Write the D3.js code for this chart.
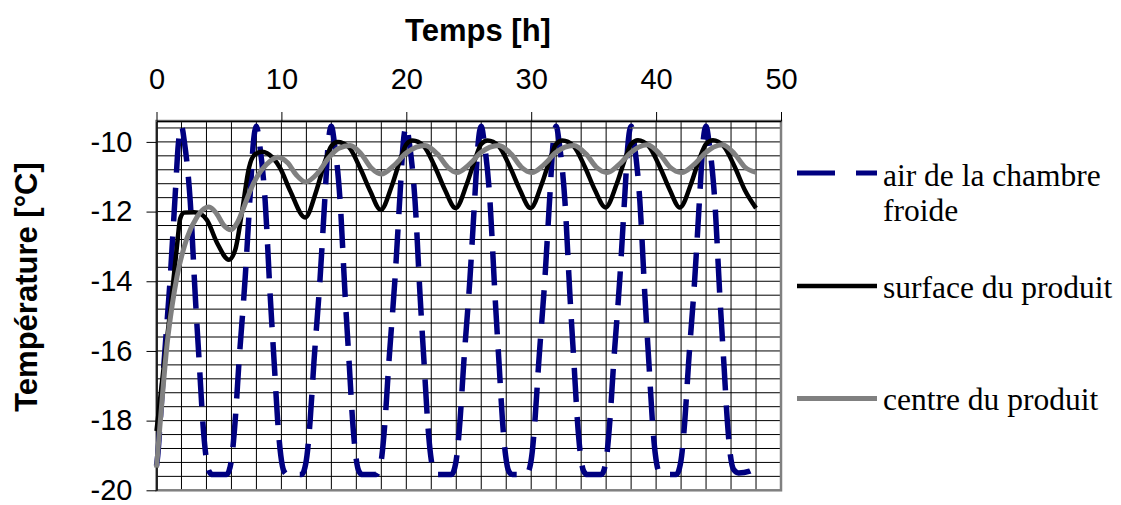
<!DOCTYPE html>
<html>
<head>
<meta charset="utf-8">
<script src="https://cdn.jsdelivr.net/npm/d3@7"></script>
<style>
  html, body { margin: 0; padding: 0; background: #fff; }
  svg { display: block; }
  .axis text { font-family: "Liberation Sans", Arial, sans-serif; font-size: 29px; fill: #000; }
  .axis path, .axis line { stroke: #000; }
  .title { font-family: "Liberation Sans", Arial, sans-serif; font-size: 31px; font-weight: bold; }
  .legend text { font-family: "Liberation Serif", "Times New Roman", serif; font-size: 31.5px; }
</style>
</head>
<body>
<div id="chart"></div>
<script>
// temperatures: [hour, °C]
var airPoints = [
  [0,-19.3],[0.1,-19.0],[0.3,-18.0],[0.6,-16.35],[1.1,-13.9],[1.5,-11.5],[1.75,-10.05],[2,-9.55],
  [2.25,-10.05],[2.7,-11.7],[3.1,-14.4],[3.45,-16.5],[3.7,-18.0],[3.95,-19.0],[4.2,-19.45],[4.5,-19.55],
  [5.6,-19.55],[5.8,-19.45],[6.05,-19.0],[6.3,-18.0],[6.6,-16.35],[7.1,-13.9],[7.5,-11.5],[7.75,-10.05],[8,-9.55],
  [8.25,-10.05],[8.7,-11.7],[9.1,-14.4],[9.45,-16.5],[9.7,-18.0],[9.95,-19.0],[10.2,-19.45],[10.5,-19.55],
  [11.6,-19.55],[11.8,-19.45],[12.05,-19.0],[12.3,-18.0],[12.6,-16.35],[13.1,-13.9],[13.5,-11.5],[13.75,-10.05],[14,-9.55],
  [14.25,-10.05],[14.7,-11.7],[15.1,-14.4],[15.45,-16.5],[15.7,-18.0],[15.95,-19.0],[16.2,-19.45],[16.5,-19.55],
  [17.6,-19.55],[17.8,-19.45],[18.05,-19.0],[18.3,-18.0],[18.6,-16.35],[19.1,-13.9],[19.5,-11.5],[19.75,-10.05],[20,-9.55],
  [20.25,-10.05],[20.7,-11.7],[21.1,-14.4],[21.45,-16.5],[21.7,-18.0],[21.95,-19.0],[22.2,-19.45],[22.5,-19.55],
  [23.6,-19.55],[23.8,-19.45],[24.05,-19.0],[24.3,-18.0],[24.6,-16.35],[25.1,-13.9],[25.5,-11.5],[25.75,-10.05],[26,-9.55],
  [26.25,-10.05],[26.7,-11.7],[27.1,-14.4],[27.45,-16.5],[27.7,-18.0],[27.95,-19.0],[28.2,-19.45],[28.5,-19.55],
  [29.6,-19.55],[29.8,-19.45],[30.05,-19.0],[30.3,-18.0],[30.6,-16.35],[31.1,-13.9],[31.5,-11.5],[31.75,-10.05],[32,-9.55],
  [32.25,-10.05],[32.7,-11.7],[33.1,-14.4],[33.45,-16.5],[33.7,-18.0],[33.95,-19.0],[34.2,-19.45],[34.5,-19.55],
  [35.6,-19.55],[35.8,-19.45],[36.05,-19.0],[36.3,-18.0],[36.6,-16.35],[37.1,-13.9],[37.5,-11.5],[37.75,-10.05],[38,-9.55],
  [38.25,-10.05],[38.7,-11.7],[39.1,-14.4],[39.45,-16.5],[39.7,-18.0],[39.95,-19.0],[40.2,-19.45],[40.5,-19.55],
  [41.6,-19.55],[41.8,-19.45],[42.05,-19.0],[42.3,-18.0],[42.6,-16.35],[43.1,-13.9],[43.5,-11.5],[43.75,-10.05],[44,-9.55],
  [44.25,-10.05],[44.7,-11.7],[45.1,-14.4],[45.45,-16.5],[45.7,-18.0],[45.95,-19.0],[46.2,-19.4],[46.6,-19.5],
  [47.5,-19.45],[48,-19.3]
];

var surfacePoints = [
  [0,-18.3],[0.55,-16.55],[1.1,-14.85],[1.65,-12.95],[1.9,-12.2],[2.2,-12.03],[3.0,-12.02],[3.6,-12.08],
  [4.05,-12.25],[4.85,-12.9],[5.8,-13.38],[6.3,-13.1],[6.85,-12.0],[7.4,-10.75],[7.9,-10.35],[8.45,-10.28],
  [9.3,-10.45],[9.9,-10.75],[10.7,-11.4],[11.9,-12.17],
  [12.8,-11.4],[13.5,-10.55],[14.0,-10.12],[14.5,-10.0],[15.4,-10.15],[16.3,-10.75],[17.1,-11.4],[17.95,-11.95],
  [18.85,-11.25],[19.55,-10.47],[20.0,-10.07],[20.5,-9.96],[21.4,-10.12],[22.3,-10.72],[23.1,-11.38],[23.95,-11.9],
  [24.85,-11.2],[25.55,-10.45],[26.0,-10.06],[26.5,-9.96],[27.4,-10.12],[28.3,-10.72],[29.1,-11.38],[29.95,-11.9],
  [30.85,-11.2],[31.55,-10.45],[32.0,-10.06],[32.5,-9.96],[33.4,-10.12],[34.3,-10.72],[35.1,-11.38],[35.95,-11.88],
  [36.85,-11.2],[37.55,-10.45],[38.0,-10.06],[38.55,-9.95],[39.4,-10.12],[40.3,-10.72],[41.1,-11.38],[41.9,-11.88],
  [42.8,-11.2],[43.5,-10.45],[44.0,-10.06],[44.55,-9.95],[45.4,-10.12],[46.3,-10.72],[47.1,-11.38],[48.0,-11.9]
];

var centrePoints = [
  [0,-19.35],[0.4,-17.6],[0.85,-15.8],[1.25,-14.7],[1.65,-13.85],[2.45,-12.75],[3.25,-12.15],[3.8,-11.92],
  [4.2,-11.87],[4.8,-12.05],[5.4,-12.4],[5.95,-12.52],[6.5,-12.3],[7.0,-11.87],[7.5,-11.4],[8.05,-11.0],
  [8.8,-10.65],[9.7,-10.44],[10.5,-10.6],[11.2,-10.95],[11.95,-11.15],
  [12.9,-10.9],[13.8,-10.45],[14.6,-10.18],[15.5,-10.1],[16.4,-10.35],[17.2,-10.75],[18.0,-10.92],
  [19.0,-10.68],[20.0,-10.32],[20.8,-10.15],[21.5,-10.1],[22.5,-10.35],[23.3,-10.72],[24.05,-10.88],
  [25.0,-10.66],[26.0,-10.3],[26.7,-10.15],[27.4,-10.1],[28.4,-10.35],[29.2,-10.72],[30.05,-10.88],
  [31.0,-10.66],[32.0,-10.3],[32.7,-10.15],[33.4,-10.1],[34.4,-10.35],[35.2,-10.72],[36.1,-10.88],
  [37.0,-10.66],[38.0,-10.3],[38.6,-10.15],[39.3,-10.08],[40.3,-10.35],[41.1,-10.72],[42.05,-10.88],
  [43.0,-10.66],[44.0,-10.3],[44.6,-10.15],[45.3,-10.08],[46.3,-10.35],[47.1,-10.72],[48.0,-10.87]
];

var seriesNames = ["air de la chambre", "surface du produit", "centre du produit"];
var xTicks = [0, 10, 20, 30, 40, 50];
var yTicks = [-20, -18, -16, -14, -12, -10];

var width = 1121, height = 505;
var margin = { top: 121, left: 156.5, right: 340, bottom: 14.7 };

var svg = d3.select("#chart").append("svg")
  .attr("width", width)
  .attr("height", height);

var xScale = d3.scaleLinear().domain([0, 50]).range([margin.left, width - margin.right]);
var yScale = d3.scaleLinear().domain([-20, -9.4]).range([height - margin.bottom, margin.top]);

// grid: every 2 h and every 0.4 °C
var grid = svg.append("g").attr("class", "grid");
grid.selectAll(".vline")
  .data(d3.range(2, 50, 2))
  .enter().append("line")
    .attr("x1", function(d) { return xScale(d); })
    .attr("x2", function(d) { return xScale(d); })
    .attr("y1", yScale.range()[1])
    .attr("y2", yScale.range()[0])
    .attr("stroke", "#000")
    .attr("stroke-width", 1);

grid.selectAll(".hline")
  .data(d3.range(1, 27).map(function(i) { return -20 + i * 0.4; }))
  .enter().append("line")
    .attr("x1", xScale.range()[0])
    .attr("x2", xScale.range()[1])
    .attr("y1", function(d) { return yScale(d); })
    .attr("y2", function(d) { return yScale(d); })
    .attr("stroke", "#000")
    .attr("stroke-width", 1);

// plot area border
svg.append("rect")
  .attr("x", xScale.range()[0])
  .attr("y", yScale.range()[1])
  .attr("width", xScale.range()[1] - xScale.range()[0])
  .attr("height", yScale.range()[0] - yScale.range()[1])
  .attr("fill", "none")
  .attr("stroke", "#808080")
  .attr("stroke-width", 2.5);

// axes
svg.append("g")
  .attr("class", "axis axis--x")
  .attr("transform", "translate(0," + margin.top + ")")
  .call(d3.axisTop(xScale).tickValues(xTicks).tickSize(9).tickSizeOuter(0).tickPadding(23)
    .tickFormat(function(d) { return String(d); }))
  .call(function(g) { g.select(".domain").attr("stroke-width", 1.5); });

svg.append("g")
  .attr("class", "axis axis--y")
  .attr("transform", "translate(" + margin.left + ",0)")
  .call(d3.axisLeft(yScale).tickValues(yTicks).tickSize(10).tickSizeOuter(0).tickPadding(14)
    .tickFormat(function(d) { return String(d); }))
  .call(function(g) { g.select(".domain").attr("stroke-width", 1.5); });

// lines
var line = d3.line()
  .curve(d3.curveMonotoneX)
  .x(function(d) { return xScale(d[0]); })
  .y(function(d) { return yScale(d[1]); });

svg.append("path")
  .datum(airPoints)
  .attr("d", line)
  .attr("fill", "none")
  .attr("stroke", "#000080")
  .attr("stroke-width", 5.5)
  .attr("stroke-dasharray", "34,15");

svg.append("path")
  .datum(surfacePoints)
  .attr("d", line)
  .attr("fill", "none")
  .attr("stroke", "#000")
  .attr("stroke-width", 4.5);

svg.append("path")
  .datum(centrePoints)
  .attr("d", line)
  .attr("fill", "none")
  .attr("stroke", "#808080")
  .attr("stroke-width", 5);

// axis titles
svg.append("text")
  .attr("class", "title")
  .attr("x", 478)
  .attr("y", 41)
  .attr("text-anchor", "middle")
  .text("Temps [h]");

svg.append("text")
  .attr("class", "title")
  .attr("transform", "translate(37,287) rotate(-90)")
  .attr("text-anchor", "middle")
  .text("Température [°C]");

// legend
var legend = svg.append("g").attr("class", "legend");
legend.append("line")
  .attr("x1", 797).attr("x2", 877).attr("y1", 173).attr("y2", 173)
  .attr("stroke", "#000080").attr("stroke-width", 5).attr("stroke-dasharray", "38,21");
legend.append("text").attr("x", 883).attr("y", 186).text("air de la chambre");
legend.append("text").attr("x", 883).attr("y", 221).text("froide");

legend.append("line")
  .attr("x1", 797).attr("x2", 877).attr("y1", 286).attr("y2", 286)
  .attr("stroke", "#000").attr("stroke-width", 4.5);
legend.append("text").attr("x", 883).attr("y", 298).text(seriesNames[1]);

legend.append("line")
  .attr("x1", 797).attr("x2", 877).attr("y1", 398.5).attr("y2", 398.5)
  .attr("stroke", "#808080").attr("stroke-width", 5);
legend.append("text").attr("x", 883).attr("y", 410).text(seriesNames[2]);
</script>
</body>
</html>
